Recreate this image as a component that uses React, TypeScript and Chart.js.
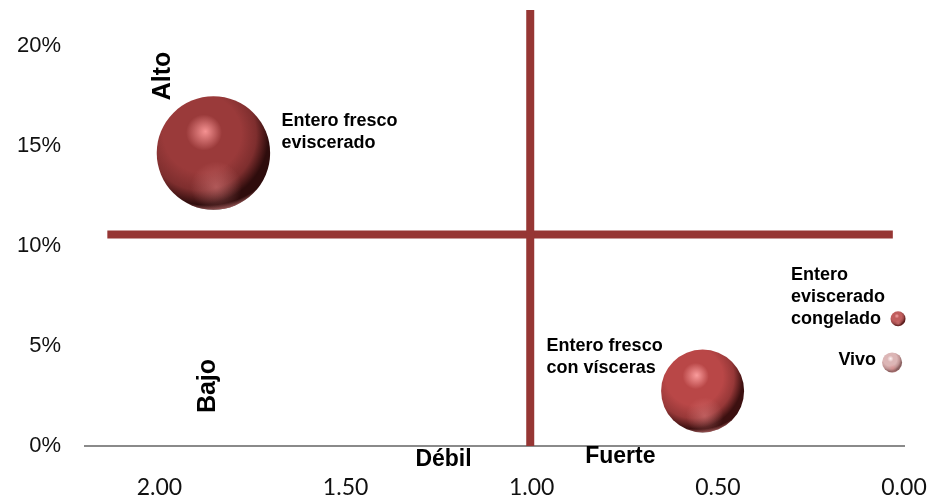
import React, { useEffect, useRef } from "react";
import { Chart, registerables } from "chart.js";

Chart.register(...registerables);

// ---- data ----
const productNames = [
  "Entero fresco eviscerado",
  "Entero fresco con vísceras",
  "Entero eviscerado congelado",
  "Vivo",
];
const labelLines = [
  ["Entero fresco", "eviscerado"],
  ["Entero fresco", "con vísceras"],
  ["Entero", "eviscerado", "congelado"],
  ["Vivo"],
];
const xValues = [1.855, 0.541, 0.016, 0.032];
const yValues = [0.1465, 0.0275, 0.0636, 0.0418];
const bubbleSizes = [56.7, 41.5, 7.5, 10];

const xTickValues = [0, 0.5, 1.0, 1.5, 2.0];
const yTickValues = [0, 0.05, 0.1, 0.15, 0.2];

const verticalDividerX = [1.004, 1.004];
const verticalDividerY = [0, 0.218];
const horizontalDividerX = [2.14, 0.03];
const horizontalDividerY = [0.1058, 0.1058];

const quadrantTexts = ["Alto", "Bajo", "Débil", "Fuerte"];
const quadrantX = [1.99, 1.87, 1.237, 0.762];
const quadrantY = [0.185, 0.03, -0.0068, -0.0055];
const quadrantRotated = [true, true, false, false];

// ---- styles ----
const bubbleBase = ["#9a3a3a", "#b94747", "#c05e5e", "#dcb6b6"];
const bubbleHighlight = ["#f59292", "#fa9c9c", "#f5a6a6", "#fff4f4"];
const bubbleMid = ["#7e2e2e", "#973838", "#9c4848", "#c09494"];
const bubbleDark = ["#2e0c0c", "#3c1010", "#5a1c1c", "#8a6060"];
const labelOffsets = [
  { dx: 68, dy: -32, align: "left" },
  { dx: -156, dy: -45, align: "left" },
  { dx: -107, dy: -43.5, align: "left" },
  { dx: -16, dy: -2.5, align: "right" },
];
const dividerColor = "#963634";

const bubbleData = xValues.map((x, i) => ({ x, y: yValues[i], r: bubbleSizes[i] }));

function sphereFill(ctx: any) {
  const i = ctx.dataIndex;
  const chart = ctx.chart;
  const raw = ctx.raw;
  if (!raw || !chart.chartArea || !chart.scales.x) return bubbleBase[i] || "#9a3a3a";
  const cx = chart.scales.x.getPixelForValue(raw.x);
  const cy = chart.scales.y.getPixelForValue(raw.y);
  const r = raw.r;
  const g = chart.ctx.createRadialGradient(
    cx - 0.14 * r,
    cy - 0.38 * r,
    0,
    cx - 0.25 * r,
    cy - 0.3 * r,
    1.32 * r
  );
  g.addColorStop(0, bubbleHighlight[i]);
  g.addColorStop(0.24, bubbleBase[i]);
  g.addColorStop(0.52, bubbleBase[i]);
  g.addColorStop(0.74, bubbleMid[i]);
  g.addColorStop(0.92, bubbleDark[i]);
  g.addColorStop(1, bubbleDark[i]);
  return g;
}

const overlayPlugin = {
  id: "overlay",
  afterDatasetsDraw(chart: any) {
    const c = chart.ctx;
    const meta = chart.getDatasetMeta(2);
    meta.data.forEach((el: any, i: number) => {
      const cx = el.x;
      const cy = el.y;
      const r = el.options.radius;
      c.save();
      c.beginPath();
      c.arc(cx, cy, r, 0, Math.PI * 2);
      c.clip();
      const g = c.createRadialGradient(cx + 0.05 * r, cy + 0.6 * r, 0, cx + 0.05 * r, cy + 0.6 * r, 0.45 * r);
      g.addColorStop(0, "rgba(235,140,140,0.45)");
      g.addColorStop(1, "rgba(235,140,140,0)");
      c.fillStyle = g;
      c.fillRect(cx - r, cy - r, 2 * r, 2 * r);
      const g2 = c.createRadialGradient(cx - 0.1 * r, cy - 0.5 * r, 0.9 * r, cx - 0.1 * r, cy - 0.5 * r, 1.55 * r);
      g2.addColorStop(0, "rgba(240,150,150,0)");
      g2.addColorStop(0.8, "rgba(240,150,150,0)");
      g2.addColorStop(1, "rgba(240,150,150,0.75)");
      c.fillStyle = g2;
      c.fillRect(cx - r, cy - r, 2 * r, 2 * r);
      c.restore();

      const lines = labelLines[i];
      const off = labelOffsets[i];
      c.save();
      c.fillStyle = "#000";
      c.font = "bold 18px 'Liberation Sans', Arial, sans-serif";
      c.textAlign = off.align;
      c.textBaseline = "middle";
      lines.forEach((t: string, k: number) => {
        c.fillText(t, cx + off.dx, cy + off.dy + k * 21.7);
      });
      c.restore();
    });

    const xs = chart.scales.x;
    const ys = chart.scales.y;
    c.save();
    c.fillStyle = "#000";
    quadrantTexts.forEach((t, i) => {
      const px = xs.getPixelForValue(quadrantX[i]);
      const py = ys.getPixelForValue(quadrantY[i]);
      c.save();
      c.translate(px, py);
      if (quadrantRotated[i]) {
        c.rotate(-Math.PI / 2);
        c.font = "bold 25px 'Liberation Sans', Arial, sans-serif";
      } else {
        c.font = "bold 23px 'Liberation Sans', Arial, sans-serif";
      }
      c.textAlign = "center";
      c.textBaseline = "middle";
      c.fillText(t, 0, 0);
      c.restore();
    });
    c.restore();
  },
};

export default function App() {
  const ref = useRef<HTMLCanvasElement | null>(null);
  useEffect(() => {
    if (!ref.current) return;
    const chart = new Chart(ref.current, {
      type: "bubble",
      data: {
        datasets: [
          {
            type: "scatter",
            label: "divisor vertical",
            data: verticalDividerX.map((x, i) => ({ x, y: verticalDividerY[i] })),
            showLine: true,
            borderColor: dividerColor,
            borderWidth: 8,
            pointRadius: 0,
            borderCapStyle: "butt",
            clip: false,
          } as any,
          {
            type: "scatter",
            label: "divisor horizontal",
            data: horizontalDividerX.map((x, i) => ({ x, y: horizontalDividerY[i] })),
            showLine: true,
            borderColor: dividerColor,
            borderWidth: 8,
            pointRadius: 0,
            borderCapStyle: "butt",
            clip: false,
          } as any,
          {
            type: "bubble",
            label: "Productos",
            data: bubbleData,
            backgroundColor: sphereFill,
            borderWidth: 0,
            clip: false,
          } as any,
        ],
      },
      options: {
        responsive: false,
        animation: false,
        events: [],
        layout: { autoPadding: false, padding: { top: 6, right: 29, left: 0, bottom: 0 } },
        plugins: {
          legend: { display: false },
          tooltip: { enabled: false },
        },
        scales: {
          x: {
            type: "linear",
            min: 0,
            max: 2.2,
            reverse: true,
            afterBuildTicks: (s: any) => {
              s.ticks = xTickValues.map((v) => ({ value: v }));
            },
            afterFit: (s: any) => {
              s.height = 54;
              s.paddingLeft = 0;
              s.paddingRight = 0;
              s.paddingTop = 0;
              s.paddingBottom = 0;
            },
            grid: { display: false, drawTicks: false },
            border: { display: true, color: "#8a8a8a", width: 2 },
            ticks: {
              padding: 28,
              color: "#111",
              font: { family: "Lato, 'Open Sans', sans-serif", size: 23 },
              callback: (v: any) => Number(v).toFixed(2),
            },
          },
          y: {
            type: "linear",
            min: 0,
            max: 0.22,
            afterBuildTicks: (s: any) => {
              s.ticks = yTickValues.map((v) => ({ value: v }));
            },
            afterFit: (s: any) => {
              s.width = 85;
              s.paddingLeft = 0;
              s.paddingRight = 0;
              s.paddingTop = 0;
              s.paddingBottom = 0;
            },
            grid: { display: false, drawTicks: false },
            border: { display: false },
            ticks: {
              padding: 24,
              color: "#111",
              font: { family: "'Liberation Sans', Arial, sans-serif", size: 22 },
              callback: (v: any) => Math.round(Number(v) * 100) + "%",
            },
          },
        },
      } as any,
      plugins: [overlayPlugin],
    });
    return () => chart.destroy();
  }, []);
  return (
    <div style={{ position: "absolute", left: 0, top: 0, width: 933, height: 500, background: "#fff" }}>
      <canvas ref={ref} width={933} height={500} aria-label={productNames.join(", ")} />
    </div>
  );
}
